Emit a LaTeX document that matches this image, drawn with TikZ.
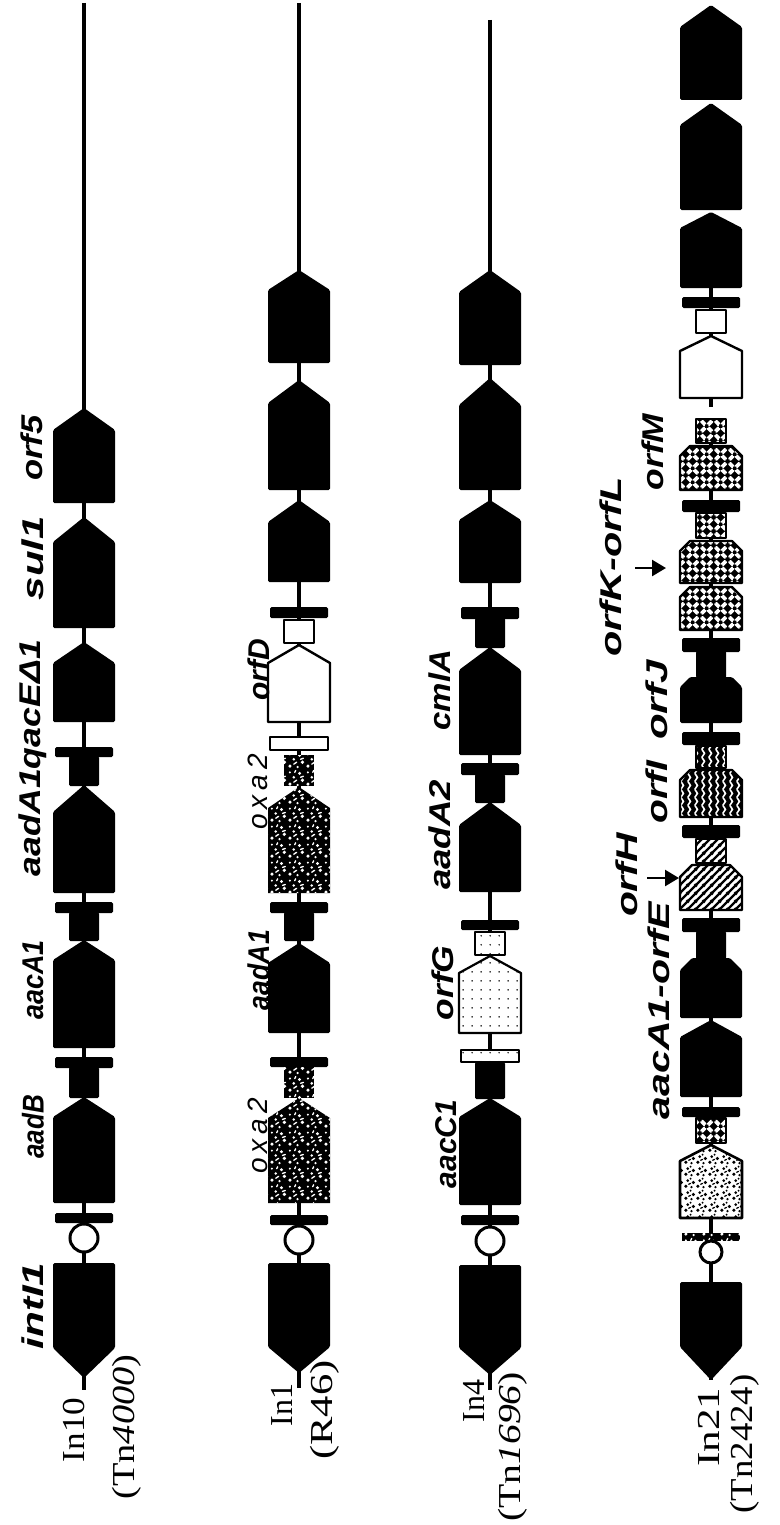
\documentclass[tikz,border=0pt]{standalone}
\usepackage{fontspec}
\setmainfont{Liberation Serif}
\newfontfamily\genefont{Liberation Sans}
\newfontfamily\oxafont{Liberation Sans}[LetterSpace=18]
\usetikzlibrary{patterns.meta,arrows.meta}

\tikzdeclarepattern{name=mottle,type=uncolored,
  bounding box={(0pt,0pt) and (18pt,18pt)},tile size={(18pt,18pt)},
  code={
    \fill (2pt,3pt) circle (1.8pt);
    \fill (10pt,2pt) circle (1.3pt);
    \fill (15pt,7pt) circle (1.9pt);
    \fill (6pt,10pt) circle (1.5pt);
    \fill (12pt,14pt) circle (1.7pt);
    \fill (2pt,15pt) circle (1.2pt);
    \draw[line width=1.4pt,line cap=round] (6pt,5pt) -- (9pt,7pt);
    \draw[line width=1.4pt,line cap=round] (13pt,10pt) -- (16pt,11pt);
    \draw[line width=1.4pt,line cap=round] (7pt,15pt) -- (8pt,17pt);
  }}
\tikzdeclarepattern{name=mottleb,type=uncolored,
  bounding box={(0pt,0pt) and (12pt,12pt)},tile size={(12pt,12pt)},
  code={
    \fill (2pt,3pt) circle (1.8pt);
    \fill (8pt,2pt) circle (1.4pt);
    \fill (10pt,7pt) circle (1.9pt);
    \fill (4pt,9pt) circle (1.6pt);
    \fill (7pt,11pt) circle (1.1pt);
    \draw[line width=1.3pt,line cap=round] (5pt,5pt) -- (7pt,6pt);
  }}
\tikzdeclarepattern{name=sparsedots,type=uncolored,
  bounding box={(0pt,0pt) and (9pt,9pt)},tile size={(9pt,9pt)},
  code={\fill (4.5pt,4.5pt) circle (0.9pt);}}
\tikzdeclarepattern{name=hatchne,type=uncolored,
  bounding box={(0pt,0pt) and (8pt,8pt)},tile size={(8pt,8pt)},
  code={
    \draw[line width=2.6pt] (-1pt,-1pt) -- (9pt,9pt);
    \draw[line width=2.6pt] (-1pt,7pt) -- (1pt,9pt);
    \draw[line width=2.6pt] (7pt,-1pt) -- (9pt,1pt);
  }}
\tikzdeclarepattern{name=wavy,type=uncolored,
  bounding box={(0pt,0pt) and (7pt,8pt)},tile size={(7pt,8pt)},
  code={\draw[line width=1.8pt] (2pt,-0.5pt) -- (5pt,4pt) -- (2pt,8.5pt);}}
\tikzdeclarepattern{name=woven,type=uncolored,
  bounding box={(0pt,0pt) and (14pt,14pt)},tile size={(14pt,14pt)},
  code={
    \draw[line width=1.9pt,line cap=round] (1pt,2.5pt) -- (4.5pt,6pt) (2.5pt,1pt) -- (6pt,4.5pt);
    \draw[line width=1.9pt,line cap=round] (8pt,9.5pt) -- (11.5pt,13pt) (9.5pt,8pt) -- (13pt,11.5pt);
    \draw[line width=1.9pt,line cap=round] (8pt,4.5pt) -- (11.5pt,1pt) (9.5pt,6pt) -- (13pt,2.5pt);
    \draw[line width=1.9pt,line cap=round] (1pt,11.5pt) -- (4.5pt,8pt) (2.5pt,13pt) -- (6pt,9.5pt);
  }}

% gene pointing up: style, x, tip, shoulder, bottom
\newcommand\gup[5]{\path[#1] (#2-31,#5) -- (#2-31,#4) -- (#2,#3) -- (#2+31,#4) -- (#2+31,#5) -- cycle;}
% gene pointing down: style, x, top, shoulder, tip
\newcommand\gdown[5]{\path[#1] (#2-31,#3) -- (#2-31,#4) -- (#2,#5) -- (#2+31,#4) -- (#2+31,#3) -- cycle;}
% chamfered gene: style, x, top, chamfer, bottom
\newcommand\gch[5]{\path[#1] (#2-31,#5) -- (#2-31,#3+#4) -- (#2-31+#4,#3) -- (#2+31-#4,#3) -- (#2+31,#3+#4) -- (#2+31,#5) -- cycle;}
% small square: style, x, top, bottom
\newcommand\gsq[4]{\path[#1] (#2-15,#3) rectangle (#2+15,#4);}
% wide bar: style, x, top, bottom
\newcommand\gbar[4]{\path[#1] (#2-29,#3) rectangle (#2+29,#4);}
% ring: x, y, r
\newcommand\gring[3]{\draw[line width=3pt,fill=white] (#1,#2) circle[radius=#3pt];}

\begin{document}
\begin{tikzpicture}[x=1pt,y=-1pt,
  bb/.style={line width=3.5pt},
  blk/.style={fill=black,rounded corners=1.5pt},
  wht/.style={fill=white,draw=black,line width=2.4pt,line join=round},
  mot/.style={preaction={fill=black},pattern=mottle,pattern color=white},
  lmot/.style={preaction={fill=white},pattern=mottleb,pattern color=black,draw=black,line width=2.6pt,line join=round},
  dotf/.style={preaction={fill=white},pattern=sparsedots,pattern color=black,draw=black,line width=2.2pt,line join=round},
  hat/.style={preaction={fill=white},pattern=hatchne,pattern color=black,draw=black,line width=2.2pt,line join=round},
  wav/.style={preaction={fill=black},pattern=wavy,pattern color=white,draw=black,line width=2.2pt,line join=round},
  wov/.style={preaction={fill=black},pattern=woven,pattern color=white,draw=black,line width=2.2pt,line join=round},
  gl/.style={rotate=90,inner sep=0pt,font=\genefont\bfseries\itshape\fontsize{30}{30}\selectfont},
  ol/.style={rotate=90,inner sep=0pt,font=\oxafont\itshape\fontsize{28}{28}\selectfont},
  sl/.style={rotate=90,inner sep=0pt,font=\fontsize{32}{32}\selectfont},
  pointer/.style={line width=2.5pt,-{Triangle[length=14pt,width=16pt]}}]
\fill[white] (0,0) rectangle (779,1525);
\useasboundingbox (0,0) rectangle (779,1525);

% ---------------- Track 1: In10 ----------------
\draw[bb] (84,3) -- (84,1390);
\gup{blk}{84}{408}{430}{503}
\gup{blk}{84}{517}{542}{628}
\gup{blk}{84}{642}{663}{722}
\gbar{blk}{84}{747}{757}
\gsq{blk}{84}{756}{786}
\gup{blk}{84}{785}{812}{893}
\gbar{blk}{84}{902}{913}
\gsq{blk}{84}{912}{941}
\gup{blk}{84}{940}{960}{1048}
\gbar{blk}{84}{1057}{1068}
\gsq{blk}{84}{1067}{1098}
\gup{blk}{84}{1097}{1117}{1203}
\gbar{blk}{84}{1213}{1223}
\gring{84}{1238}{14}
\gdown{blk}{84}{1263}{1348}{1378}

% ---------------- Track 2: In1 ----------------
\draw[bb] (299,3) -- (299,1388);
\gup{blk}{299}{270}{290}{363}
\gup{blk}{299}{380}{403}{490}
\gup{blk}{299}{500}{522}{582}
\gbar{blk}{299}{607}{618}
\gsq{wht}{299}{620}{643}
\gup{wht}{299}{645}{663}{722}
\gbar{wht}{299}{737}{750}
\gsq{mot}{299}{755}{786}
\gup{mot}{299}{787}{808}{893}
\gbar{blk}{299}{902}{913}
\gsq{blk}{299}{912}{941}
\gup{blk}{299}{943}{963}{1033}
\gbar{blk}{299}{1057}{1067}
\gsq{mot}{299}{1067}{1098}
\gup{mot}{299}{1098}{1118}{1203}
\gbar{blk}{299}{1215}{1225}
\gring{299}{1240}{14}
\gdown{blk}{299}{1263}{1347}{1373}

% ---------------- Track 3: In4 ----------------
\draw[bb] (490,20) -- (490,1390);
\gup{blk}{490}{270}{292}{365}
\gup{blk}{490}{378}{405}{490}
\gup{blk}{490}{500}{520}{583}
\gbar{blk}{490}{607}{619}
\gsq{blk}{490}{618}{648}
\gup{blk}{490}{647}{670}{755}
\gbar{blk}{490}{763}{775}
\gsq{blk}{490}{774}{803}
\gup{blk}{490}{802}{825}{892}
\gbar{blk}{490}{920}{930}
\gsq{dotf}{490}{932}{955}
\gup{dotf}{490}{956}{973}{1033}
\gbar{dotf}{490}{1050}{1062}
\gsq{blk}{490}{1062}{1099}
\gup{blk}{490}{1098}{1117}{1205}
\gbar{blk}{490}{1215}{1225}
\gring{490}{1241}{14}
\gdown{blk}{490}{1265}{1348}{1375}

% ---------------- Track 4: In21 ----------------
\draw[bb] (711,288) -- (711,407);
\draw[bb] (711,418) -- (711,1380);
\gup{blk}{711}{5}{27}{100}
\gup{blk}{711}{103}{125}{210}
\gup{blk}{711}{212}{228}{288}
\gbar{blk}{711}{297}{308}
\gsq{wht}{711}{310}{333}
\gup{wht}{711}{336}{351}{398}
\gsq{wov}{711}{419}{443}
\gch{wov}{711}{446}{10}{490}
\gbar{blk}{711}{500}{512}
\gsq{wov}{711}{513}{538}
\gch{wov}{711}{541}{10}{583}
\gch{wov}{711}{587}{10}{630}
\gbar{blk}{711}{638}{652}
\gsq{blk}{711}{651}{678}
\gch{blk}{711}{677}{10}{723}
\gbar{blk}{711}{732}{745}
\gsq{wav}{711}{746}{768}
\gch{wav}{711}{770}{10}{817}
\gbar{blk}{711}{825}{838}
\gsq{hat}{711}{839}{863}
\gch{hat}{711}{865}{12}{910}
\gbar{blk}{711}{918}{932}
\gsq{blk}{711}{931}{959}
\gch{blk}{711}{958}{12}{1018}
\gup{blk}{711}{1020}{1037}{1097}
\gbar{blk}{711}{1107}{1117}
\gsq{wov}{711}{1118}{1143}
\gup{lmot}{711}{1145}{1161}{1218}
\gbar{mot}{711}{1233}{1241}
\gring{711}{1252}{11}
\gdown{blk}{711}{1282}{1347}{1380}

% ---------------- labels ----------------
\node[gl,xscale=1.41] (l1a) at (33,1306) {intI1};
\node[gl,xscale=0.87] (l1b) at (33,1127) {aadB};
\node[gl,xscale=0.9] (l1c) at (33,980) {aacA1};
\node[gl,xscale=1.19] (l1d) at (33,758) {aadA1qacEΔ1};
\node[gl,xscale=1.4] (l1e) at (33,558) {sul1};
\node[gl,xscale=1.15] (l1f) at (32,448) {orf5};

\node[ol] (l2a) at (258,1136) {oxa2};
\node[gl,xscale=0.89] (l2b) at (259,970) {aadA1};
\node[ol] (l2c) at (258,792) {oxa2};
\node[gl] (l2d) at (259,670) {orfD};

\node[gl] (l3a) at (446,1144) {aacC1};
\node[gl,xscale=1.18] (l3b) at (443,983) {orfG};
\node[gl,xscale=1.22] (l3c) at (440,835) {aadA2};
\node[gl,xscale=1.1] (l3d) at (440,690) {cmlA};

\node[gl,xscale=1.37] (l4a) at (659,1011) {aacA1-orfE};
\node[gl,xscale=1.36] (l4b) at (627,875) {orfH};
\node[gl,xscale=1.3] (l4c) at (657,792) {orfI};
\node[gl,xscale=1.4] (l4d) at (657,700) {orfJ};
\node[gl,xscale=1.38] (l4e) at (611,567) {orfK-orfL};
\node[gl,xscale=1.18] (l4f) at (653,452) {orfM};

\coordinate (a1s) at (647,878);
\coordinate (a1e) at (679,878);
\coordinate (a2s) at (635,568);
\coordinate (a2e) at (666,568);
\draw[pointer] (a1s) -- (a1e);
\draw[pointer] (a2s) -- (a2e);

\node[sl,xscale=1.1] (n1) at (74,1430) {In10};
\node[sl,xscale=1.2] (n1b) at (127,1427) {(Tn\textit{4000})};
\node[sl] (n2) at (282,1405) {In1};
\node[sl,xscale=1.33] (n2b) at (325,1410) {(R46)};
\node[sl] (n3) at (474,1401) {In4};
\node[sl,xscale=1.24] (n3b) at (513,1447) {(Tn\textit{1696})};
\node[sl,xscale=1.35] (n4) at (709,1427) {In21};
\node[sl,xscale=1.15] (n4b) at (745,1444) {(Tn2424)};
\end{tikzpicture}
\end{document}
